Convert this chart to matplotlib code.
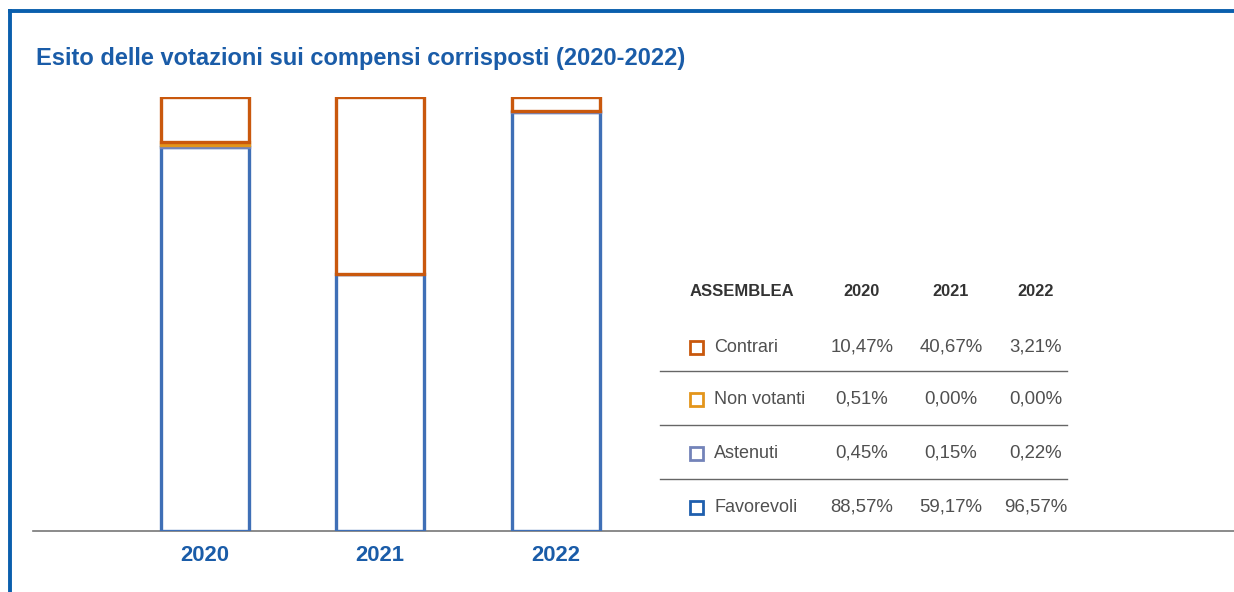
import matplotlib.pyplot as plt
from matplotlib.lines import Line2D
from matplotlib.patches import Rectangle

# ============================================
# DATI
# ============================================
anni = ["2020", "2021", "2022"]
categorie = ["Contrari", "Non votanti", "Astenuti", "Favorevoli"]
contrari = [10.47, 40.67, 3.21]
non_votanti = [0.51, 0.00, 0.00]
astenuti = [0.45, 0.15, 0.22]
favorevoli = [88.57, 59.17, 96.57]

colori = {
    "Contrari": "#c9580d",
    "Non votanti": "#e3951b",
    "Astenuti": "#7383b9",
    "Favorevoli": "#3f6fb6",
}
colori_legenda = {
    "Contrari": "#c9580d",
    "Non votanti": "#e3951b",
    "Astenuti": "#7383b9",
    "Favorevoli": "#1f5fae",
}
blu = "#1a5ca8"
testo = "#505050"

plt.rcParams['font.family'] = ['Liberation Sans', 'DejaVu Sans']

W, H = 1234, 592
fig = plt.figure(figsize=(W / 100, H / 100), dpi=100)

def fx(px):
    return px / W

def fy(py):
    return 1 - py / H

# cornice blu (sopra e a sinistra)
fig.add_artist(Line2D([fx(10), 1], [fy(11), fy(11)], color="#0a5fad", lw=2.8))
fig.add_artist(Line2D([fx(10), fx(10)], [fy(11), 0], color="#0a5fad", lw=2.8))

fig.text(fx(36), fy(58), "Esito delle votazioni sui compensi corrisposti (2020-2022)",
         color=blu, fontsize=17, fontweight="bold", va="center", ha="left")

# ============================================
# GRAFICO A BARRE IMPILATE (solo contorni)
# ============================================
ax_left, ax_right, ax_top, ax_bot = 33, 1234, 97, 531
ax = fig.add_axes([fx(ax_left), fy(ax_bot), fx(ax_right - ax_left), (ax_bot - ax_top) / H])

passo = 175.5
centro0 = 204.5
ax.set_xlim(-(centro0 - ax_left) / passo, 2 + (ax_right - (centro0 + 2 * passo)) / passo)
ax.set_ylim(0, 100)

x = list(range(len(anni)))
larghezza = 88 / passo
serie = [("Favorevoli", favorevoli), ("Astenuti", astenuti),
         ("Non votanti", non_votanti), ("Contrari", contrari)]
base = [0.0] * len(anni)
for nome, valori in serie:
    for i in x:
        if valori[i] > 0:
            ax.bar(i, valori[i], bottom=base[i], width=larghezza, facecolor="white",
                   edgecolor=colori[nome], linewidth=2.4, zorder=3)
    base = [b + v for b, v in zip(base, valori)]

for s in ["top", "right", "left"]:
    ax.spines[s].set_visible(False)
ax.spines["bottom"].set_color("#777777")
ax.spines["bottom"].set_linewidth(1.2)
ax.set_yticks([])
ax.set_xticks(x)
ax.set_xticklabels(anni, color=blu, fontsize=15.8, fontweight="bold")
ax.tick_params(axis="x", length=0, pad=10)

# ============================================
# TABELLA / LEGENDA
# ============================================
col_x = [862, 951, 1036]
fig.text(fx(690), fy(291), "ASSEMBLEA", fontsize=12, fontweight="bold",
         color="#333333", va="center", ha="left")
for cx, anno in zip(col_x, anni):
    fig.text(fx(cx), fy(291), anno, fontsize=11.8, fontweight="bold",
             color="#333333", va="center", ha="center")

righe_y = [347, 399, 453, 507]
valori_tab = {"Contrari": contrari, "Non votanti": non_votanti,
              "Astenuti": astenuti, "Favorevoli": favorevoli}
for ry, nome in zip(righe_y, categorie):
    fig.add_artist(Rectangle((fx(690.5), fy(ry + 6.5)), fx(13), 13 / H, facecolor="white",
                             edgecolor=colori_legenda[nome], linewidth=2.0))
    fig.text(fx(714), fy(ry), nome, fontsize=13, color=testo, va="center", ha="left")
    for cx, v in zip(col_x, valori_tab[nome]):
        fig.text(fx(cx), fy(ry), f"{v:.2f}%".replace(".", ","), fontsize=13.4,
                 color=testo, va="center", ha="center")

for ly in [371, 425, 479]:
    fig.add_artist(Line2D([fx(660), fx(1067)], [fy(ly), fy(ly)], color="#666666", lw=1.0))

fig.savefig("out.png", dpi=100)
